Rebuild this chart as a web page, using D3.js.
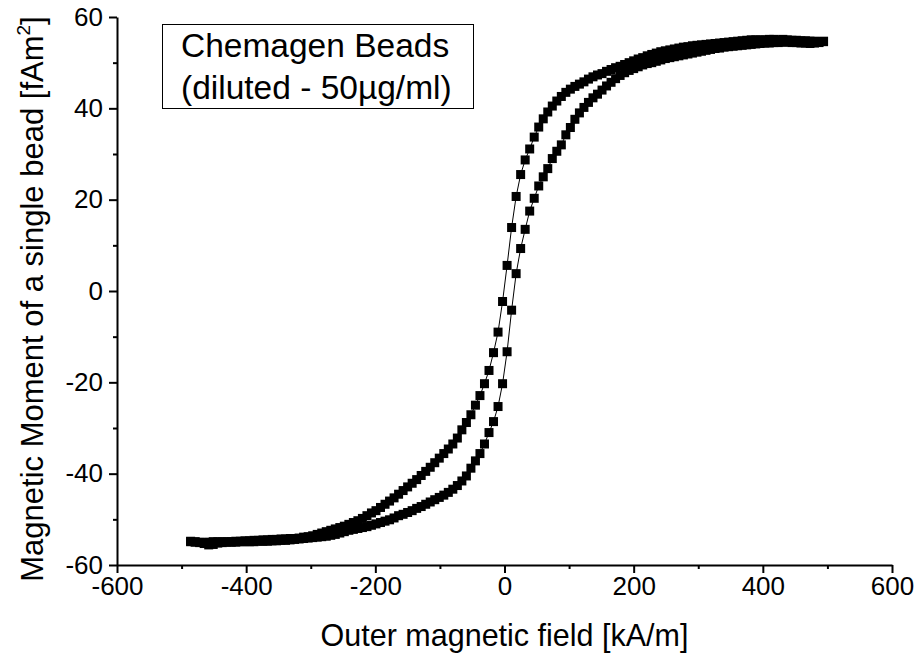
<!DOCTYPE html>
<html>
<head>
<meta charset="utf-8">
<script src="https://cdn.jsdelivr.net/npm/d3@7"></script>
<style>
  body { margin: 0; background: #fff; }
  text { font-family: "Liberation Sans", Arial, sans-serif; fill: #000; }
</style>
</head>
<body>
<div id="chart"></div>
<script>
// field steps [kA/m], shared by both branches
const field = [
  -486, -479, -472, -465, -458, -451, -444, -437, -430, -423, -416, -409, -402, -395, -388, -381,
  -374, -367, -360, -353, -346, -339, -332, -325, -318, -311, -304, -297, -290, -283, -276, -269,
  -262, -255, -248, -241, -234, -227, -220, -213, -206, -199, -192, -185, -178, -171, -164, -157,
  -150, -143, -136, -129, -122, -115, -108, -101, -94, -87, -80, -73, -66, -59, -52, -45, -38,
  -31, -24, -17, -10, -3, 4, 11, 18, 25, 32, 39, 46, 53, 60, 67, 74, 81, 88, 95, 102, 109, 116,
  123, 130, 137, 144, 151, 158, 165, 172, 179, 186, 193, 200, 207, 214, 221, 228, 235, 242, 249,
  256, 263, 270, 277, 284, 291, 298, 305, 312, 319, 326, 333, 340, 347, 354, 361, 368, 375, 382,
  389, 396, 403, 410, 417, 424, 431, 438, 445, 452, 459, 466, 473, 480, 487, 494
];

// descending branch (coming from +500)
const momentDown = [
  -54.8, -54.9, -55.0, -55.1, -55.0, -54.9, -54.9, -54.9, -54.9, -54.9, -54.8, -54.8, -54.7, -54.7, -54.6, -54.6,
  -54.5, -54.5, -54.4, -54.4, -54.3, -54.3, -54.2, -54.2, -54.1, -53.9, -53.8, -53.6, -53.3, -53.0, -52.7, -52.4,
  -52.1, -51.8, -51.5, -51.1, -50.7, -50.3, -49.8, -49.2, -48.6, -48.1, -47.4, -46.7, -46.0, -45.3, -44.5, -43.7,
  -42.9, -42.1, -41.3, -40.4, -39.5, -38.6, -37.6, -36.6, -35.6, -34.6, -33.5, -32.2, -30.4, -28.8, -27.1, -25.0, -22.9,
  -20.3, -17.4, -13.5, -9.0, -2.3, 5.6, 13.9, 20.7, 25.5, 28.7, 31.1, 33.7, 35.9, 37.7, 39.2, 40.5, 41.6, 42.6, 43.5, 44.2, 44.8, 45.3,
  45.8, 46.4, 46.9, 47.3, 47.6, 48.1, 48.5, 48.9, 49.2, 49.6, 50.0, 50.4, 50.8, 51.1, 51.5, 51.8, 52.1, 52.4, 52.6,
  52.8, 53.0, 53.2, 53.4, 53.5, 53.7, 53.8, 53.9, 54.0, 54.1, 54.2, 54.3, 54.4, 54.5, 54.6, 54.7, 54.8, 54.9, 55.0,
  55.0, 55.0, 55.0, 55.1, 55.1, 55.0, 55.1, 55.0, 54.9, 54.9, 54.8, 54.8, 54.7, 54.7, 54.6, 54.7
];

// ascending branch (coming from -500)
const momentUp = [
  -54.9, -55.0, -55.1, -55.3, -55.6, -55.5, -55.2, -55.1, -55.0, -55.0, -55.0, -54.9, -54.9, -54.9, -54.9, -54.8,
  -54.8, -54.8, -54.7, -54.7, -54.6, -54.6, -54.5, -54.4, -54.3, -54.2, -54.1, -54.0, -53.9, -53.8, -53.7, -53.5,
  -53.3, -53.0, -52.7, -52.4, -52.2, -52.0, -51.8, -51.6, -51.3, -51.0, -50.7, -50.4, -50.1, -49.7, -49.2, -48.9,
  -48.5, -48.1, -47.6, -47.2, -46.7, -46.2, -45.7, -45.2, -44.7, -44.1, -43.4, -42.6, -41.6, -40.5, -38.8, -37.2, -35.6,
  -33.5, -31.0, -28.6, -25.3, -20.3, -13.3, -4.2, 3.8, 9.3, 13.5, 17.5, 20.3, 23.0, 25.0, 26.8, 29.0, 30.6, 32.0, 34.2, 35.8, 37.6, 39.0,
  40.2, 41.3, 42.3, 43.1, 44.0, 44.9, 45.7, 46.5, 47.2, 47.8, 48.3, 48.7, 49.1, 49.5, 49.8, 50.0, 50.3, 50.6, 50.9,
  51.1, 51.3, 51.5, 51.7, 51.9, 52.1, 52.3, 52.5, 52.7, 52.9, 53.1, 53.2, 53.4, 53.5, 53.6, 53.7, 53.8, 53.9, 54.0,
  54.1, 54.2, 54.3, 54.3, 54.4, 54.4, 54.5, 54.5, 54.4, 54.4, 54.3, 54.3, 54.2, 54.3, 54.4, 54.6
];

const xTicks = [-600, -400, -200, 0, 200, 400, 600];
const xMinorTicks = [-500, -300, -100, 100, 300, 500];
const yTicks = [-60, -40, -20, 0, 20, 40, 60];
const yMinorTicks = [-50, -30, -10, 10, 30, 50];
const legendLines = ['Chemagen Beads', '(diluted - 50µg/ml)'];

const width = 917;
const height = 666;
const margin = { top: 17, right: 25, bottom: 101, left: 117 };

const svg = d3.select('#chart')
  .append('svg')
  .attr('width', width)
  .attr('height', height);

const x = d3.scaleLinear()
  .domain([-600, 600])
  .range([margin.left, width - margin.right]);

const y = d3.scaleLinear()
  .domain([-60, 60])
  .range([height - margin.bottom, margin.top]);

// plain hyphen for negative numbers, like the original
const fmt = (d) => String(d);

// axes
const xAxis = svg.append('g')
  .attr('transform', `translate(0,${y(-60)})`)
  .call(d3.axisBottom(x).tickValues(xTicks).tickFormat(fmt).tickSize(8).tickSizeOuter(0).tickPadding(4));

svg.append('g')
  .attr('transform', `translate(0,${y(-60)})`)
  .call(d3.axisBottom(x).tickValues(xMinorTicks).tickSize(4).tickSizeOuter(0).tickFormat(''))
  .call((g) => g.select('.domain').remove());

const yAxis = svg.append('g')
  .attr('transform', `translate(${x(-600)},0)`)
  .call(d3.axisLeft(y).tickValues(yTicks).tickFormat(fmt).tickSize(8).tickSizeOuter(0).tickPadding(6));

svg.append('g')
  .attr('transform', `translate(${x(-600)},0)`)
  .call(d3.axisLeft(y).tickValues(yMinorTicks).tickSize(4).tickSizeOuter(0).tickFormat(''))
  .call((g) => g.select('.domain').remove());

svg.selectAll('.domain, .tick line')
  .attr('stroke', '#000')
  .attr('stroke-width', 2);

xAxis.selectAll('text').style('font-size', '26px');
yAxis.selectAll('text').style('font-size', '26px');

// axis titles
svg.append('text')
  .attr('x', x(0))
  .attr('y', 646)
  .attr('text-anchor', 'middle')
  .style('font-size', '30.5px')
  .text('Outer magnetic field [kA/m]');

const yTitle = svg.append('text')
  .attr('transform', `translate(43,299) rotate(-90)`)
  .attr('text-anchor', 'middle')
  .style('font-size', '31px');
yTitle.append('tspan').text('Magnetic Moment of a single bead [fAm');
yTitle.append('tspan').attr('dy', -13).style('font-size', '19px').text('2');
yTitle.append('tspan').attr('dy', 13).text(']');

// data
const down = field.map((h, i) => ({ h, m: momentDown[i] }));
const up = field.map((h, i) => ({ h, m: momentUp[i] }));
const loop = down.slice().reverse().concat(up);

const line = d3.line()
  .x((d) => x(d.h))
  .y((d) => y(d.m));

svg.append('path')
  .datum(loop)
  .attr('fill', 'none')
  .attr('stroke', '#000')
  .attr('stroke-width', 1)
  .attr('d', line);

const size = 9;
svg.append('g')
  .selectAll('rect')
  .data(loop)
  .enter()
  .append('rect')
  .attr('x', (d) => x(d.h) - size / 2)
  .attr('y', (d) => y(d.m) - size / 2)
  .attr('width', size)
  .attr('height', size)
  .attr('fill', '#000');

// legend box
const legend = svg.append('g');
legend.append('rect')
  .attr('x', 162.5)
  .attr('y', 24.5)
  .attr('width', 311)
  .attr('height', 84)
  .attr('fill', '#fff')
  .attr('stroke', '#000')
  .attr('stroke-width', 1);

legend.selectAll('text')
  .data(legendLines)
  .enter()
  .append('text')
  .attr('x', 181)
  .attr('y', (d, i) => 57 + i * 42)
  .style('font-size', '33.5px')
  .text((d) => d);
</script>
</body>
</html>
